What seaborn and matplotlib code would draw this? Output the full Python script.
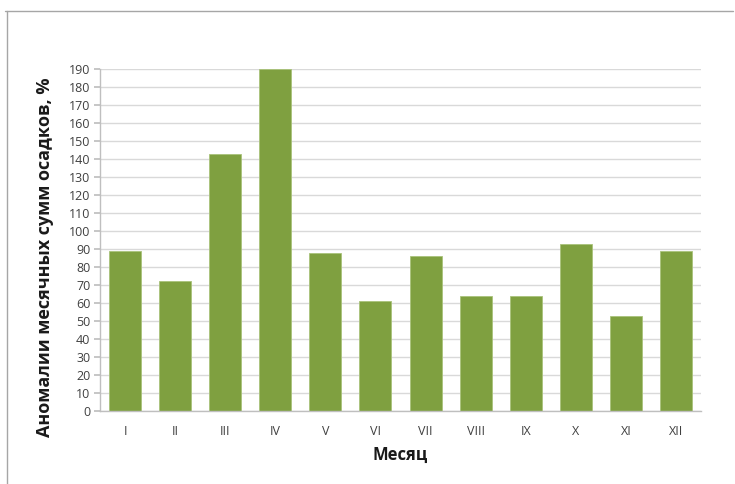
import matplotlib
matplotlib.use("Agg")
import matplotlib.pyplot as plt
from matplotlib.lines import Line2D
import seaborn as sns
import pandas as pd

months = ["I", "II", "III", "IV", "V", "VI", "VII", "VIII", "IX", "X", "XI", "XII"]
anomalies = [89, 72, 143, 190, 88, 61, 86, 64, 64, 93, 53, 89]
y_ticks = list(range(0, 200, 10))

sns.set_theme(style="white")
plt.rcParams["font.family"] = ["Open Sans", "DejaVu Sans"]

df = pd.DataFrame({"Месяц": months, "value": anomalies})

fig = plt.figure(figsize=(7.35, 4.84), dpi=100)
ax = fig.add_axes([100 / 735, 73 / 484, 601 / 735, 342 / 484])

ax.yaxis.grid(True, color="#D9D9D9", linewidth=1.0, zorder=0)
ax.set_axisbelow(True)

sns.barplot(data=df, x="Месяц", y="value", color="#7FA040", width=0.64,
            edgecolor="#A9C27A", linewidth=0.6, saturation=1, ax=ax, zorder=2)

ax.set_ylim(0, 190)
ax.set_xlim(-0.5, 11.5)
ax.set_yticks(y_ticks)
ax.set_yticklabels([str(v) for v in y_ticks])

for side in ["top", "right"]:
    ax.spines[side].set_visible(False)
for side in ["left", "bottom"]:
    ax.spines[side].set_color("#BFBFBF")
    ax.spines[side].set_linewidth(1.0)

ax.tick_params(axis="y", which="both", left=True, length=4, color="#BFBFBF",
               labelsize=9, labelcolor="#404040", pad=3)
ax.tick_params(axis="x", bottom=False, labelsize=9, labelcolor="#404040", pad=4)

ax.set_xlabel("Месяц", fontsize=12, fontweight="bold", color="#1a1a1a", labelpad=6)
ax.set_ylabel("Аномалии месячных сумм осадков, %", fontsize=13,
              fontweight="bold", color="#1a1a1a", labelpad=4)
ax.yaxis.set_label_coords(-0.077, 0.45)

# chart frame edges
fig.add_artist(Line2D([5 / 735, 733 / 735], [1 - 11 / 484, 1 - 11 / 484],
                      transform=fig.transFigure, color="#A6A6A6", linewidth=1.0))
fig.add_artist(Line2D([7 / 735, 7 / 735], [1 - 11 / 484, 0],
                      transform=fig.transFigure, color="#A6A6A6", linewidth=1.0))

fig.savefig("out.png", dpi=100, facecolor="white")
